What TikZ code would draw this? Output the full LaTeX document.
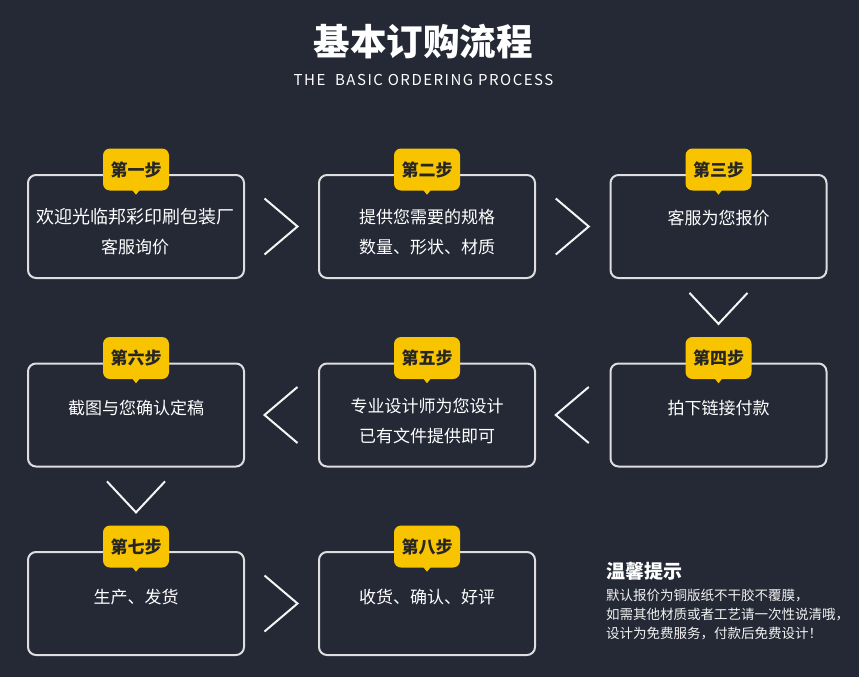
\documentclass[tikz,border=0pt]{standalone}
\usepackage{fontspec}
\setmainfont{Noto Sans CJK SC}
\usetikzlibrary{positioning,calc}

\definecolor{bgdark}{RGB}{37,41,53}
\definecolor{tagyellow}{RGB}{248,196,0}
\definecolor{edgegray}{RGB}{222,222,224}

\begin{document}
\begin{tikzpicture}[x=1pt, y=-1pt,
  stepbox/.style={draw=edgegray, line width=2pt, rounded corners=8pt,
    minimum width=216pt, minimum height=103pt, inner sep=0pt},
  tag/.style={fill=tagyellow, rounded corners=7pt, minimum width=66pt,
    minimum height=42pt, inner sep=0pt, text=black!85,
    font=\fontsize{17}{17}\selectfont\bfseries},
  boxtext/.style={text=white, align=center, inner sep=0pt,
    font=\fontsize{17}{30}\selectfont},
  chev/.style={draw=white!92!gray, line width=2pt}]

  % background
  \fill[bgdark] (0,0) rectangle (859,677);

  % heading
  \node[text=white, font=\fontsize{36.5}{36.5}\selectfont\bfseries] (title) at (423,42) {基本订购流程};
  \node[text=white, font=\fontsize{15}{15}\selectfont] (subtitle) at (423.5,80)
    {\addfontfeature{LetterSpace=10}THE\ \ BASIC ORDERING PROCESS};

  % step frames
  \node[stepbox] (s1) at (136,226.5) {};
  \node[stepbox] (s2) at (427,226.5) {};
  \node[stepbox] (s3) at (718.5,226.5) {};
  \node[stepbox] (s4) at (718.5,415) {};
  \node[stepbox] (s5) at (427,415) {};
  \node[stepbox] (s6) at (136,415) {};
  \node[stepbox] (s7) at (136,603.5) {};
  \node[stepbox] (s8) at (427,603.5) {};

  % step texts
  \node[boxtext] (t1) at (135,232) {{\fontsize{18}{30}\selectfont 欢迎光临邦彩印刷包装厂}\\客服询价};
  \node[boxtext] (t2) at (427,232) {提供您需要的规格\\数量、形状、材质};
  \node[boxtext] (t3) at (718.5,218) {客服为您报价};
  \node[boxtext] (t4) at (718.5,408) {拍下链接付款};
  \node[boxtext] (t5) at (427,421.5) {专业设计师为您设计\\已有文件提供即可};
  \node[boxtext] (t6) at (136,408) {截图与您确认定稿};
  \node[boxtext] (t7) at (136,597) {生产、发货};
  \node[boxtext] (t8) at (427,597) {收货、确认、好评};

  % yellow step tags
  \node[tag] (b1) at ($(s1.north)+(0,-4.5)$) {第一步};
  \node[tag] (b2) at ($(s2.north)+(0,-4.5)$) {第二步};
  \node[tag] (b3) at ($(s3.north)+(0,-4.5)$) {第三步};
  \node[tag] (b4) at ($(s4.north)+(0,-4.5)$) {第四步};
  \node[tag] (b5) at ($(s5.north)+(0,-4.5)$) {第五步};
  \node[tag] (b6) at ($(s6.north)+(0,-4.5)$) {第六步};
  \node[tag] (b7) at ($(s7.north)+(0,-4.5)$) {第七步};
  \node[tag] (b8) at ($(s8.north)+(0,-4.5)$) {第八步};
  \foreach \i in {1,...,8}
    \fill[tagyellow] ($(b\i.south)+(-4,-1)$) -- ++(4,5) -- ++(4,-5) -- cycle;

  % chevrons between steps
  \coordinate (a12) at ($(s1.east)!0.5!(s2.west)$);
  \coordinate (a23) at ($(s2.east)!0.5!(s3.west)$);
  \coordinate (a34) at ($(s3.south)!0.5!(b4.north)$);
  \coordinate (a45) at ($(s5.east)!0.5!(s4.west)$);
  \coordinate (a56) at ($(s6.east)!0.5!(s5.west)$);
  \coordinate (a67) at ($(s6.south)!0.5!(b7.north)$);
  \coordinate (a78) at ($(s7.east)!0.5!(s8.west)$);
  \draw[chev] ($(a12)+(-17,-28)$) -- ++(33,28) -- ++(-33,28);
  \draw[chev] ($(a23)+(-17,-28)$) -- ++(33,28) -- ++(-33,28);
  \draw[chev] ($(a78)+(-17,-28)$) -- ++(33,28) -- ++(-33,28);
  \draw[chev] ($(a45)+(16,-28)$) -- ++(-33,28) -- ++(33,28);
  \draw[chev] ($(a56)+(16,-28)$) -- ++(-33,28) -- ++(33,28);
  \draw[chev] ($(a34)+(-29,-15)$) -- ++(29,31) -- ++(29,-31);
  \draw[chev] ($(a67)+(-29,-15)$) -- ++(29,31) -- ++(29,-31);

  % reminder
  \node[anchor=west, inner sep=0pt, text=white, font=\fontsize{19}{19}\selectfont\bfseries]
    (tiphead) at (606,571) {温馨提示};
  \node[anchor=west, inner sep=0pt, align=left, text=white!90!gray,
    font=\fontsize{13.5}{19}\selectfont] (tipbody) at (606,615)
    {默认报价为铜版纸不干胶不覆膜，\\如需其他材质或者工艺请一次性说清哦，\\设计为免费服务，付款后免费设计！};
\end{tikzpicture}
\end{document}
